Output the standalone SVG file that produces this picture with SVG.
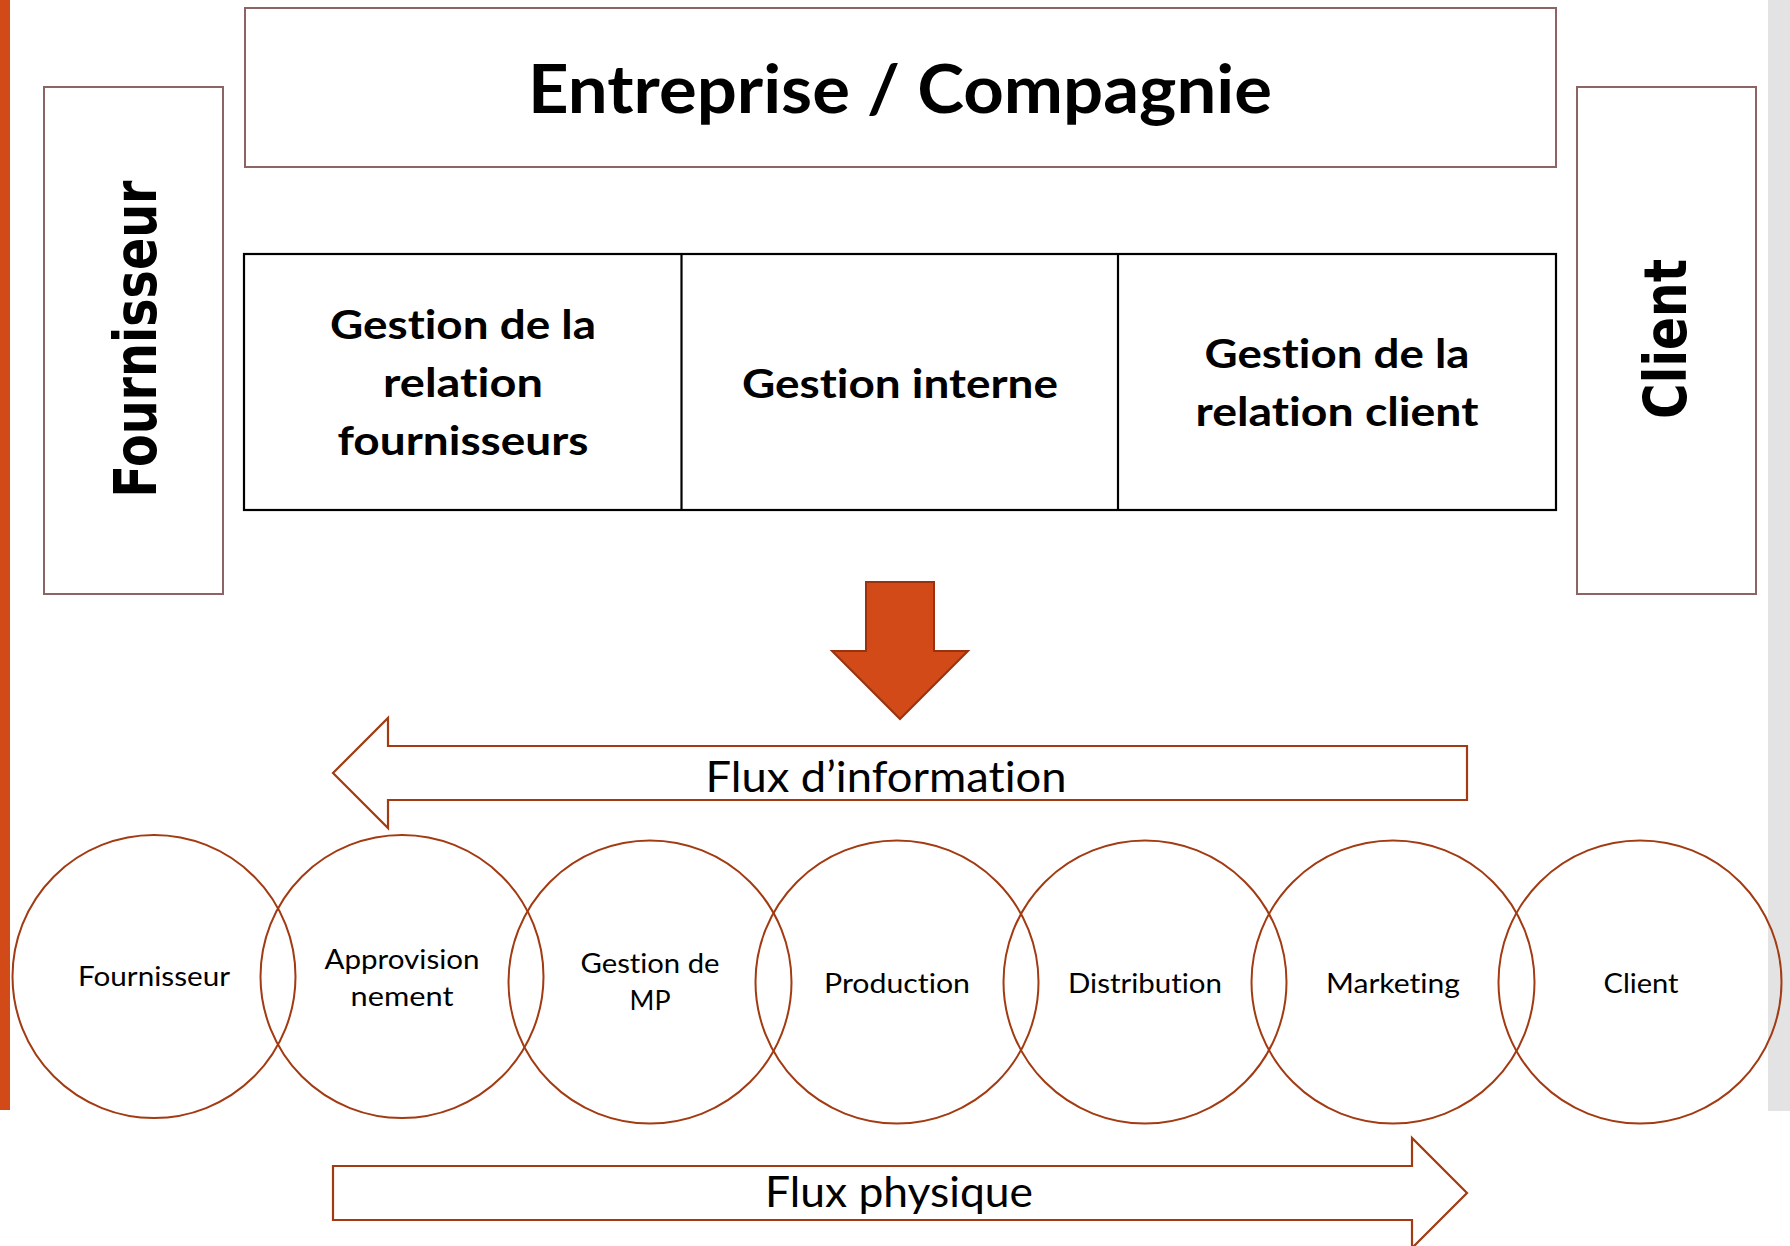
<svg xmlns="http://www.w3.org/2000/svg" width="1790" height="1246" viewBox="0 0 1790 1246">
<style>
.bg{fill:#ffffff}
.box{fill:#ffffff;stroke:#8c6464;stroke-width:2}
.cell{fill:#ffffff;stroke:#000000;stroke-width:2.2}
.circ{fill:none;stroke:#a23a12;stroke-width:2}
.flow{fill:#ffffff;stroke:#a23a12;stroke-width:2.2}
.big{fill:#d24a18;stroke:#9a3210;stroke-width:2}
.t{font-family:Lato,"Open Sans","Liberation Sans",sans-serif;fill:#000;text-anchor:middle;font-variant-ligatures:none;font-feature-settings:"liga" 0,"clig" 0}
.b{font-weight:700}
.rot{font-family:"DejaVu Sans","Liberation Sans",sans-serif;font-weight:700;font-size:58px;fill:#000;text-anchor:middle}
.lbl{font-size:27px}
</style>
<rect class="bg" x="0" y="0" width="1790" height="1246"/>
<rect x="0" y="0" width="10" height="1110" fill="#d24a18"/>
<rect x="1768" y="0" width="22" height="1111" fill="#e3e3e3"/>

<g id="entreprise">
<rect class="box" x="245" y="8" width="1311" height="159"/>
<text class="t b" x="900" y="113" font-size="66" textLength="744" lengthAdjust="spacingAndGlyphs">Entreprise / Compagnie</text>
</g>

<g id="fournisseur-side">
<rect class="box" x="44" y="87" width="179" height="507"/>
<text class="rot" transform="translate(156,339) rotate(-90)" x="0" y="0" textLength="317" lengthAdjust="spacingAndGlyphs">Fournisseur</text>
</g>

<g id="client-side">
<rect class="box" x="1577" y="87" width="179" height="507"/>
<text class="rot" transform="translate(1686,339) rotate(-90)" x="0" y="0" textLength="160" lengthAdjust="spacingAndGlyphs">Client</text>
</g>

<g id="gestion-table">
<rect class="cell" x="244" y="254" width="1312" height="256"/>
<line x1="681.5" y1="254" x2="681.5" y2="510" stroke="#000" stroke-width="2.2"/>
<line x1="1118" y1="254" x2="1118" y2="510" stroke="#000" stroke-width="2.2"/>
</g>
<g id="cell-fournisseurs">
<text class="t b" font-size="40" x="463" y="339" textLength="266" lengthAdjust="spacingAndGlyphs">Gestion de la</text>
<text class="t b" font-size="40" x="463" y="397" textLength="160" lengthAdjust="spacingAndGlyphs">relation</text>
<text class="t b" font-size="40" x="463" y="455" textLength="251" lengthAdjust="spacingAndGlyphs">fournisseurs</text>
</g>
<g id="cell-interne">
<text class="t b" font-size="40" x="900" y="398" textLength="316" lengthAdjust="spacingAndGlyphs">Gestion interne</text>
</g>
<g id="cell-client">
<text class="t b" font-size="40" x="1337" y="368" textLength="265" lengthAdjust="spacingAndGlyphs">Gestion de la</text>
<text class="t b" font-size="40" x="1337" y="426" textLength="283" lengthAdjust="spacingAndGlyphs">relation client</text>
</g>

<g id="connectors">
<polygon class="big" points="866,582 934,582 934,651 968,651 900,719 832,651 866,651"/>
<polygon class="flow" points="1467,746 388,746 388,718 333,773 388,828 388,800 1467,800"/>
<polygon class="flow" points="333,1166 1412,1166 1412,1138 1467,1193 1412,1248 1412,1220 333,1220"/>
</g>
<g id="flux-information">
<text class="t" font-size="43" x="886" y="792" textLength="361" lengthAdjust="spacingAndGlyphs">Flux d’information</text>
</g>
<g id="flux-physique">
<text class="t" font-size="43" x="899" y="1207" textLength="268" lengthAdjust="spacingAndGlyphs">Flux physique</text>
</g>

<g id="c-fournisseur">
<circle class="circ" cx="154" cy="976.5" r="141.5"/>
<text class="t lbl" x="154" y="986" textLength="152" lengthAdjust="spacingAndGlyphs">Fournisseur</text>
</g>
<g id="c-approvisionnement">
<circle class="circ" cx="402" cy="976.5" r="141.5"/>
<text class="t lbl" x="402" y="969" textLength="155" lengthAdjust="spacingAndGlyphs">Approvision</text>
<text class="t lbl" x="402" y="1006" textLength="103" lengthAdjust="spacingAndGlyphs">nement</text>
</g>
<g id="c-gestion-mp">
<circle class="circ" cx="650" cy="982" r="141.5"/>
<text class="t lbl" x="650" y="973" textLength="139" lengthAdjust="spacingAndGlyphs">Gestion de</text>
<text class="t lbl" x="650" y="1010" textLength="41" lengthAdjust="spacingAndGlyphs">MP</text>
</g>
<g id="c-production">
<circle class="circ" cx="897" cy="982" r="141.5"/>
<text class="t lbl" x="897" y="993" textLength="146" lengthAdjust="spacingAndGlyphs">Production</text>
</g>
<g id="c-distribution">
<circle class="circ" cx="1145" cy="982" r="141.5"/>
<text class="t lbl" x="1145" y="993" textLength="154" lengthAdjust="spacingAndGlyphs">Distribution</text>
</g>
<g id="c-marketing">
<circle class="circ" cx="1393" cy="982" r="141.5"/>
<text class="t lbl" x="1393" y="993" textLength="134" lengthAdjust="spacingAndGlyphs">Marketing</text>
</g>
<g id="c-client">
<circle class="circ" cx="1640" cy="982" r="141.5"/>
<text class="t lbl" x="1641" y="993" textLength="75" lengthAdjust="spacingAndGlyphs">Client</text>
</g>
</svg>
